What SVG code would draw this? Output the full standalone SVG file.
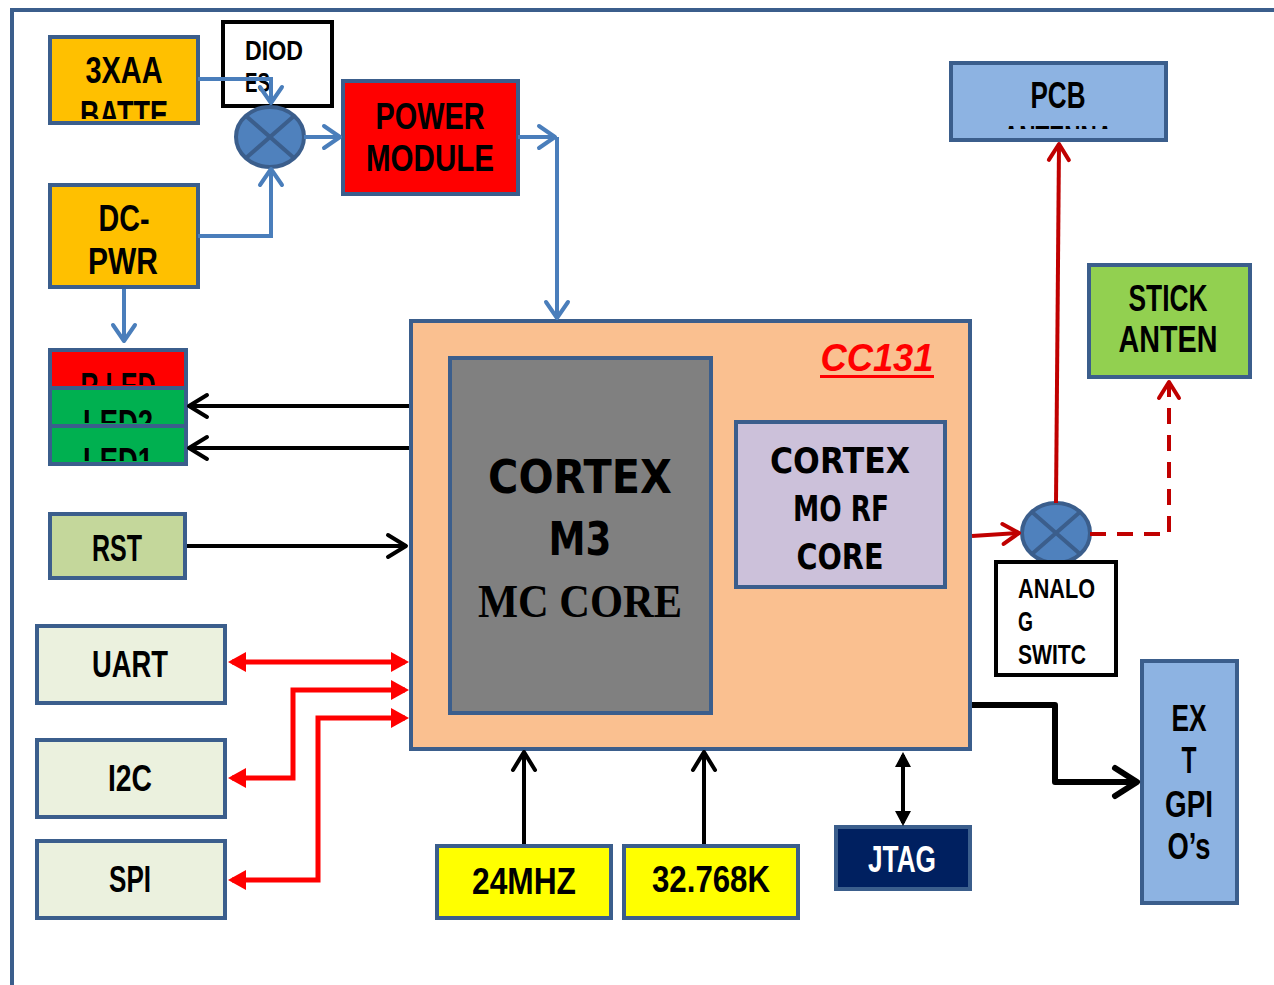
<svg xmlns="http://www.w3.org/2000/svg" width="1274" height="985" viewBox="0 0 1274 985">
<style>
.box{stroke:#3b5e8c;stroke-width:4}
.bk{stroke:#000;stroke-width:4}
.t{font-family:"Liberation Sans",Arial,sans-serif;font-weight:bold;font-size:37px;text-anchor:middle;fill:#000}
.tl{font-family:"Liberation Sans",Arial,sans-serif;font-weight:bold;font-size:28px;fill:#000}
.cm{font-family:"DejaVu Sans",sans-serif;font-weight:bold;font-size:46px;text-anchor:middle;fill:#000}
.sf{font-family:"Liberation Serif",serif;font-weight:bold;font-size:46px;text-anchor:middle;fill:#000}
.bl{fill:none;stroke:#4a7ebb;stroke-width:4}
.kl{fill:none;stroke:#000;stroke-width:4}
.rl{fill:none;stroke:#ff0000;stroke-width:5}
.dr{fill:none;stroke:#c00000;stroke-width:4}
</style>
<defs>
<marker id="cb" viewBox="-22 -14 26 28" markerWidth="26" markerHeight="28" refX="0" refY="0" orient="auto" markerUnits="userSpaceOnUse" overflow="visible"><path d="M-16,-11 L0,0 L-16,11" fill="none" stroke="#4a7ebb" stroke-width="4" stroke-linecap="round" stroke-linejoin="round"/></marker>
<marker id="ck" viewBox="-22 -14 26 28" markerWidth="26" markerHeight="28" refX="0" refY="0" orient="auto" markerUnits="userSpaceOnUse" overflow="visible"><path d="M-18,-11 L0,0 L-18,11" fill="none" stroke="#000" stroke-width="4" stroke-linecap="round" stroke-linejoin="round"/></marker>
<marker id="ckb" viewBox="-26 -18 30 36" markerWidth="30" markerHeight="36" refX="0" refY="0" orient="auto" markerUnits="userSpaceOnUse" overflow="visible"><path d="M-22,-14 L0,0 L-22,14" fill="none" stroke="#000" stroke-width="6" stroke-linecap="round" stroke-linejoin="round"/></marker>
<marker id="cr" viewBox="-22 -14 26 28" markerWidth="26" markerHeight="28" refX="0" refY="0" orient="auto" markerUnits="userSpaceOnUse" overflow="visible"><path d="M-16,-10 L0,0 L-16,10" fill="none" stroke="#c00000" stroke-width="4" stroke-linecap="round" stroke-linejoin="round"/></marker>
<marker id="tr" viewBox="-16 -11 22 22" markerWidth="22" markerHeight="22" refX="0" refY="0" orient="auto-start-reverse" markerUnits="userSpaceOnUse" overflow="visible"><path d="M4,0 L-14,-10 L-14,10 Z" fill="#ff0000"/></marker>
<marker id="tk" viewBox="-16 -11 22 22" markerWidth="22" markerHeight="22" refX="0" refY="0" orient="auto-start-reverse" markerUnits="userSpaceOnUse" overflow="visible"><path d="M3,0 L-12,-8 L-12,8 Z" fill="#000"/></marker>
<clipPath id="c3xaa"><rect x="52" y="39" width="144" height="80"/></clipPath>
<clipPath id="cled1"><rect x="52" y="352" width="132" height="33"/></clipPath>
<clipPath id="cled2"><rect x="52" y="390" width="132" height="33"/></clipPath>
<clipPath id="cled3"><rect x="52" y="428" width="132" height="33"/></clipPath>
<clipPath id="cpcb"><rect x="953" y="65" width="211" height="64"/></clipPath>
</defs>
<rect width="1274" height="985" fill="#fff"/>
<g id="frame"><path d="M12,985 V10 H1274" fill="none" stroke="#3b5e8c" stroke-width="4"/></g>

<g id="batt">
<rect class="box" x="50" y="37" width="148" height="86" fill="#ffc000"/>
<g clip-path="url(#c3xaa)"><text class="t" x="124" y="83" textLength="77" lengthAdjust="spacingAndGlyphs">3XAA</text><text class="t" x="124" y="127" textLength="88" lengthAdjust="spacingAndGlyphs">BATTE</text></g>
</g>
<g id="diodes">
<rect class="bk" x="223" y="22" width="109" height="84" fill="#fff"/>
<text class="tl" x="245" y="60" textLength="58" lengthAdjust="spacingAndGlyphs">DIOD</text><text class="tl" x="245" y="92" textLength="25" lengthAdjust="spacingAndGlyphs">ES</text>
</g>
<g id="junction1">
<ellipse cx="270" cy="137" rx="34" ry="30" fill="#4f81bd" stroke="#3b5e8c" stroke-width="4"/>
<path d="M246,116 L294,158 M294,116 L246,158" stroke="#3b5e8c" stroke-width="4"/>
</g>
<g id="power">
<rect class="box" x="343" y="81" width="175" height="113" fill="#ff0000"/>
<text class="t" x="430" y="129" textLength="109" lengthAdjust="spacingAndGlyphs">POWER</text><text class="t" x="430" y="171" textLength="128" lengthAdjust="spacingAndGlyphs">MODULE</text>
</g>
<g id="dcpwr">
<rect class="box" x="50" y="185" width="148" height="102" fill="#ffc000"/>
<text class="t" x="124" y="231" textLength="51" lengthAdjust="spacingAndGlyphs">DC-</text><text class="t" x="123" y="274" textLength="70" lengthAdjust="spacingAndGlyphs">PWR</text>
</g>
<g id="leds">
<rect class="box" x="50" y="350" width="136" height="38" fill="#ff0000"/>
<rect class="box" x="50" y="388" width="136" height="38" fill="#00b050"/>
<rect class="box" x="50" y="426" width="136" height="38" fill="#00b050"/>
<g clip-path="url(#cled1)"><text class="t" x="118" y="399" textLength="75" lengthAdjust="spacingAndGlyphs">R LED</text></g>
<g clip-path="url(#cled2)"><text class="t" x="118" y="436" textLength="70" lengthAdjust="spacingAndGlyphs">LED2</text></g>
<g clip-path="url(#cled3)"><text class="t" x="118" y="474" textLength="70" lengthAdjust="spacingAndGlyphs">LED1</text></g>
</g>
<g id="rst">
<rect class="box" x="50" y="514" width="135" height="64" fill="#c4d79b"/>
<text class="t" x="117" y="561" textLength="50" lengthAdjust="spacingAndGlyphs">RST</text>
</g>
<g id="uart"><rect class="box" x="37" y="626" width="188" height="77" fill="#ebf1de"/><text class="t" x="130" y="677" textLength="76" lengthAdjust="spacingAndGlyphs">UART</text></g>
<g id="i2c"><rect class="box" x="37" y="740" width="188" height="77" fill="#ebf1de"/><text class="t" x="130" y="791" textLength="44" lengthAdjust="spacingAndGlyphs">I2C</text></g>
<g id="spi"><rect class="box" x="37" y="841" width="188" height="77" fill="#ebf1de"/><text class="t" x="130" y="892" textLength="42" lengthAdjust="spacingAndGlyphs">SPI</text></g>

<g id="cc131">
<rect class="box" x="411" y="321" width="559" height="428" fill="#fac090"/>
<text x="877" y="371" text-anchor="middle" font-family="Liberation Sans,sans-serif" font-weight="bold" font-style="italic" font-size="38" fill="#ff0000" textLength="113" lengthAdjust="spacingAndGlyphs">CC131</text>
<rect x="820" y="375" width="114" height="3" fill="#ff0000"/>
</g>
<g id="m3">
<rect class="box" x="450" y="358" width="261" height="355" fill="#808080"/>
<text class="cm" x="580" y="493" textLength="184" lengthAdjust="spacingAndGlyphs">CORTEX</text><text class="cm" x="580" y="555" textLength="63" lengthAdjust="spacingAndGlyphs">M3</text><text class="sf" x="580" y="617" textLength="204" lengthAdjust="spacingAndGlyphs">MC CORE</text>
</g>
<g id="m0">
<rect class="box" x="736" y="422" width="209" height="165" fill="#ccc1da"/>
<text class="cm" style="font-size:35px" x="840" y="473" textLength="140" lengthAdjust="spacingAndGlyphs">CORTEX</text><text class="cm" style="font-size:35px" x="841" y="521" textLength="96" lengthAdjust="spacingAndGlyphs">MO RF</text><text class="cm" style="font-size:35px" x="840" y="569" textLength="87" lengthAdjust="spacingAndGlyphs">CORE</text>
</g>
<g id="xtal24"><rect class="box" x="437" y="846" width="174" height="72" fill="#ffff00"/><text class="t" x="524" y="894" textLength="104" lengthAdjust="spacingAndGlyphs">24MHZ</text></g>
<g id="xtal32"><rect class="box" x="624" y="846" width="174" height="72" fill="#ffff00"/><text class="t" x="711" y="892" textLength="118" lengthAdjust="spacingAndGlyphs">32.768K</text></g>
<g id="jtag"><rect class="box" x="836" y="827" width="134" height="62" fill="#002060"/><text class="t" style="fill:#fff" x="902" y="872" textLength="68" lengthAdjust="spacingAndGlyphs">JTAG</text></g>
<g id="junction2">
<ellipse cx="1056" cy="533" rx="34" ry="30" fill="#4f81bd" stroke="#3b5e8c" stroke-width="4"/>
<path d="M1032,512 L1080,554 M1080,512 L1032,554" stroke="#3b5e8c" stroke-width="4"/>
</g>
<g id="analog">
<rect class="bk" x="996" y="562" width="120" height="113" fill="#fff"/>
<text class="tl" x="1018" y="598" textLength="77" lengthAdjust="spacingAndGlyphs">ANALO</text><text class="tl" x="1018" y="631" textLength="15" lengthAdjust="spacingAndGlyphs">G</text><text class="tl" x="1018" y="664" textLength="68" lengthAdjust="spacingAndGlyphs">SWITC</text>
</g>
<g id="pcb">
<rect class="box" x="951" y="63" width="215" height="77" fill="#8db3e2"/>
<text class="t" x="1058" y="108" textLength="55" lengthAdjust="spacingAndGlyphs">PCB</text>
<g clip-path="url(#cpcb)"><text class="t" x="1058" y="152" textLength="110" lengthAdjust="spacingAndGlyphs">ANTENNA</text></g>
</g>
<g id="stick">
<rect class="box" x="1089" y="265" width="161" height="112" fill="#92d050"/>
<text class="t" x="1168" y="311" textLength="79" lengthAdjust="spacingAndGlyphs">STICK</text><text class="t" x="1168" y="352" textLength="99" lengthAdjust="spacingAndGlyphs">ANTEN</text>
</g>
<g id="gpio">
<rect class="box" x="1142" y="661" width="95" height="242" fill="#8db3e2"/>
<text class="t" x="1189" y="731" textLength="35" lengthAdjust="spacingAndGlyphs">EX</text><text class="t" x="1189" y="773" textLength="15" lengthAdjust="spacingAndGlyphs">T</text><text class="t" x="1189" y="817" textLength="48" lengthAdjust="spacingAndGlyphs">GPI</text><text class="t" x="1189" y="859" textLength="43" lengthAdjust="spacingAndGlyphs">O’s</text>
</g>

<g id="connectors">
<path class="bl" d="M198,79 H271 V103" marker-end="url(#cb)"/>
<path class="bl" d="M198,236 H271 V169" marker-end="url(#cb)"/>
<path class="bl" d="M304,137 H340" marker-end="url(#cb)"/>
<path class="bl" d="M518,137 H555" marker-end="url(#cb)"/>
<path class="bl" d="M557,137 V318" marker-end="url(#cb)"/>
<path class="bl" d="M124,289 V341" marker-end="url(#cb)"/>
<path class="kl" d="M409,406 H189" marker-end="url(#ck)"/>
<path class="kl" d="M409,448 H189" marker-end="url(#ck)"/>
<path class="kl" d="M187,546 H406" marker-end="url(#ck)"/>
<path class="rl" d="M232,662 H405" marker-start="url(#tr)" marker-end="url(#tr)"/>
<path class="rl" d="M405,690 H293 V778 H232" marker-start="url(#tr)" marker-end="url(#tr)"/>
<path class="rl" d="M405,718 H318 V880 H232" marker-start="url(#tr)" marker-end="url(#tr)"/>
<path class="kl" d="M524,844 V752" marker-end="url(#ck)"/>
<path class="kl" d="M704,844 V752" marker-end="url(#ck)"/>
<path class="kl" d="M903,823 V755" marker-start="url(#tk)" marker-end="url(#tk)"/>
<path class="kl" style="stroke-width:6;stroke-linejoin:round" d="M972,705 H1055 V782 H1137" marker-end="url(#ckb)"/>
<path class="dr" d="M972,536 L1019,533" marker-end="url(#cr)"/>
<path class="dr" d="M1056,503 L1059,144" marker-end="url(#cr)"/>
<path class="dr" d="M1090,534 H1169 V382" stroke-dasharray="16,11" marker-end="url(#cr)"/>
</g>
</svg>
